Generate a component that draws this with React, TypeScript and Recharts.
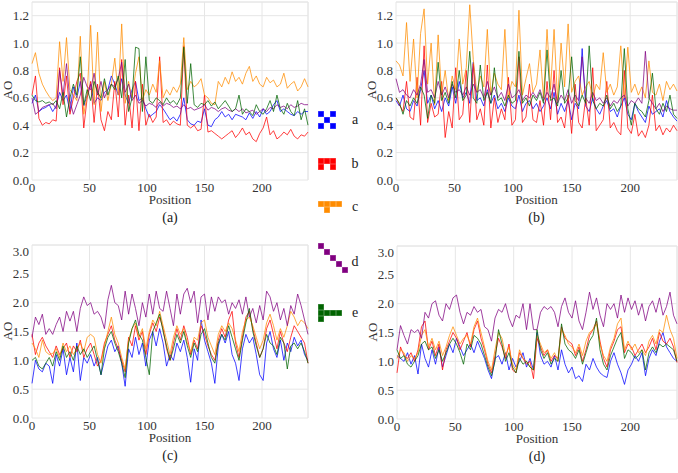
import React from "react";
import { CartesianGrid, Line, LineChart, ReferenceLine, XAxis, YAxis } from "recharts";

// Four AO-vs-position panels (a)-(d), five series each, plus a pixel-icon legend.

const FONT = "'Liberation Serif', 'Times New Roman', Times, 'DejaVu Serif', serif";

const POSITIONS = [
  0, 3, 6, 9, 12, 15, 18, 21, 24, 27,
  30, 33, 36, 39, 42, 45, 48, 51, 54, 57,
  60, 63, 66, 69, 72, 75, 78, 81, 84, 87,
  90, 93, 96, 99, 102, 105, 108, 111, 114, 117,
  120, 123, 126, 129, 132, 135, 138, 141, 144, 147,
  150, 153, 156, 159, 162, 165, 168, 171, 174, 177,
  180, 183, 186, 189, 192, 195, 198, 201, 204, 207,
  210, 213, 216, 219, 222, 225, 228, 231, 234, 237,
  240,
];

const X_TICKS = [0, 50, 100, 150, 200];
const Y_TICKS_TOP = [0, 0.2, 0.4, 0.6, 0.8, 1.0, 1.2];
const Y_TICKS_BOTTOM = [0, 0.5, 1.0, 1.5, 2.0, 2.5, 3.0];

// ---- panel (a) ----
const A_BLUE = [
  0.56, 0.62, 0.50, 0.52, 0.53, 0.55, 0.50, 0.54, 0.64, 0.58,
  0.62, 0.50, 0.68, 0.60, 0.72, 0.54, 0.62, 0.70, 0.56, 0.60,
  0.58, 0.64, 0.66, 0.76, 0.70, 0.62, 0.74, 0.62, 0.56, 0.66,
  0.72, 0.58, 0.60, 0.52, 0.46, 0.48, 0.50, 0.55, 0.52, 0.48,
  0.44, 0.46, 0.43, 0.48, 0.60, 0.44, 0.41, 0.40, 0.43, 0.42,
  0.52, 0.40, 0.39, 0.44, 0.46, 0.50, 0.46, 0.48, 0.44, 0.48,
  0.47, 0.46, 0.44, 0.49, 0.45, 0.50, 0.46, 0.52, 0.48, 0.50,
  0.55, 0.58, 0.50, 0.52, 0.50, 0.48, 0.47, 0.50, 0.48, 0.50,
  0.50,
];
const A_RED = [
  0.62, 0.76, 0.45, 0.40, 0.42, 0.41, 0.44, 0.43, 0.82, 0.55,
  0.76, 0.48, 0.60, 0.72, 0.78, 0.38, 0.60, 0.72, 0.42, 0.70,
  0.44, 0.36, 0.50, 0.44, 0.72, 0.46, 0.88, 0.40, 0.62, 0.38,
  0.72, 0.36, 0.70, 0.40, 0.48, 0.42, 0.46, 0.90, 0.42, 0.44,
  0.40, 0.43, 0.41, 0.40, 0.98, 0.40, 0.38, 0.40, 0.36, 0.37,
  0.62, 0.35, 0.36, 0.34, 0.32, 0.30, 0.32, 0.34, 0.36, 0.31,
  0.34, 0.38, 0.33, 0.35, 0.30, 0.28, 0.34, 0.38, 0.46, 0.33,
  0.36, 0.30, 0.32, 0.35, 0.33, 0.37, 0.32, 0.30, 0.33, 0.32,
  0.35,
];
const A_ORANGE = [
  0.85, 0.93, 0.78, 0.70, 0.65, 0.61, 0.58, 0.60, 1.01, 0.72,
  1.04, 0.66, 0.62, 0.58, 1.05, 0.48, 0.62, 1.13, 0.55, 1.08,
  0.50, 0.72, 0.58, 0.70, 0.89, 0.62, 1.14, 0.56, 0.72, 0.60,
  0.78, 0.90, 0.58, 0.66, 0.62, 0.70, 0.64, 0.87, 0.60, 0.66,
  0.62, 0.68, 0.64, 0.70, 1.04, 0.66, 0.72, 0.68, 0.70, 0.74,
  0.62, 0.60, 0.56, 0.55, 0.72, 0.68, 0.75, 0.70, 0.79, 0.72,
  0.75, 0.70, 0.78, 0.83, 0.72, 0.76, 0.70, 0.68, 0.75, 0.71,
  0.73, 0.68, 0.70, 0.78, 0.67, 0.70, 0.72, 0.65, 0.68, 0.74,
  0.68,
];
const A_PURPLE = [
  0.60, 0.48, 0.50, 0.53, 0.54, 0.55, 0.56, 0.52, 0.80, 0.62,
  0.85, 0.58, 0.48, 0.55, 0.62, 0.75, 0.68, 0.66, 0.78, 0.62,
  0.72, 0.60, 0.66, 0.70, 0.68, 0.74, 0.86, 0.64, 0.70, 0.58,
  0.62, 0.56, 0.58, 0.54, 0.56, 0.55, 0.53, 0.57, 0.54, 0.56,
  0.55, 0.53, 0.54, 0.52, 0.55, 0.52, 0.53, 0.51, 0.52, 0.53,
  0.55, 0.51, 0.53, 0.52, 0.50, 0.52, 0.53, 0.51, 0.50, 0.52,
  0.50, 0.52, 0.49, 0.50, 0.51, 0.48, 0.50, 0.52, 0.50, 0.53,
  0.52, 0.55, 0.53, 0.54, 0.52, 0.55, 0.53, 0.54, 0.56, 0.55,
  0.55,
];
const A_GREEN = [
  0.62, 0.58, 0.57, 0.58, 0.56, 0.57, 0.55, 0.58, 0.52, 0.64,
  0.46, 0.60, 0.70, 0.62, 0.90, 0.55, 0.66, 0.58, 0.72, 0.64,
  0.60, 0.74, 0.62, 0.70, 0.66, 0.76, 0.60, 0.88, 0.50, 0.60,
  0.97, 0.96, 0.50, 0.90, 0.58, 0.56, 0.60, 0.58, 0.55, 0.60,
  0.56, 0.58, 0.55, 0.60, 0.97, 0.56, 0.85, 0.55, 0.53, 0.56,
  0.55, 0.58, 0.54, 0.57, 0.52, 0.55, 0.58, 0.54, 0.50, 0.52,
  0.62, 0.48, 0.52, 0.50, 0.47, 0.55, 0.50, 0.48, 0.52, 0.58,
  0.50, 0.62, 0.52, 0.48, 0.56, 0.50, 0.47, 0.58, 0.44, 0.52,
  0.40,
];

// ---- panel (b) ----
const B_BLUE = [
  0.58, 0.54, 0.62, 0.52, 0.50, 0.58, 0.54, 0.66, 0.80, 0.56,
  0.62, 0.52, 0.58, 0.50, 0.60, 0.54, 0.68, 0.56, 0.72, 0.60,
  0.64, 0.56, 0.86, 0.58, 0.60, 0.54, 0.66, 0.56, 0.62, 0.52,
  0.56, 0.50, 0.60, 0.54, 0.52, 0.62, 0.50, 0.56, 0.58, 0.52,
  0.56, 0.50, 0.54, 0.60, 0.52, 0.64, 0.48, 0.56, 0.50, 0.58,
  0.44, 0.56, 0.52, 0.96, 0.54, 0.50, 0.60, 0.52, 0.48, 0.54,
  0.58, 0.50, 0.52, 0.46, 0.54, 0.60, 0.48, 0.44, 0.56, 0.50,
  0.46, 0.42, 0.54, 0.48, 0.50, 0.52, 0.46, 0.58, 0.50, 0.46,
  0.43,
];
const B_RED = [
  0.60, 0.55, 0.50, 0.72, 0.46, 0.44, 0.75, 0.40, 0.98, 0.42,
  0.56, 0.46, 0.48, 0.72, 0.31, 0.50, 0.38, 0.82, 0.44, 0.48,
  0.80, 0.42, 0.85, 0.44, 0.52, 0.40, 0.84, 0.38, 0.60, 0.42,
  0.52, 0.44, 0.75, 0.40, 0.44, 0.90, 0.42, 0.46, 0.70, 0.44,
  0.42, 0.58, 0.40, 0.72, 0.44, 0.80, 0.42, 0.46, 0.38, 0.62,
  0.34, 0.70, 0.42, 0.38, 0.60, 0.40, 0.82, 0.36, 0.40, 0.44,
  0.72, 0.38, 0.42, 0.36, 0.33, 0.80, 0.38, 0.34, 0.48, 0.32,
  0.36, 0.31, 0.40, 0.62, 0.36, 0.40, 0.33, 0.38, 0.35, 0.40,
  0.36,
];
const B_ORANGE = [
  0.87, 0.84, 0.76, 1.15, 0.72, 1.03, 0.60, 1.07, 1.25, 0.70,
  1.00, 0.55, 1.06, 0.62, 0.80, 0.58, 0.76, 0.66, 1.03, 0.70,
  0.82, 1.28, 0.88, 0.64, 0.76, 0.68, 1.10, 0.62, 0.78, 0.70,
  0.66, 1.10, 0.60, 0.72, 0.68, 1.24, 0.62, 0.74, 0.85, 0.64,
  0.70, 0.95, 0.60, 1.10, 0.66, 1.10, 0.58, 1.00, 0.68, 1.14,
  0.64, 0.72, 0.76, 0.62, 0.68, 0.72, 0.60, 0.70, 0.66, 0.93,
  0.64, 0.70, 0.62, 0.68, 0.98, 0.60, 0.97, 0.64, 0.70, 0.62,
  0.68, 0.60, 0.87, 0.64, 0.62, 0.70, 0.58, 0.72, 0.66, 0.70,
  0.65,
];
const B_PURPLE = [
  0.74, 0.64, 0.66, 0.62, 0.60, 0.66, 0.62, 0.70, 0.88, 0.64,
  0.66, 0.60, 0.72, 0.62, 0.68, 0.60, 0.70, 0.64, 0.66, 0.62,
  0.68, 0.62, 0.70, 0.64, 0.66, 0.60, 0.72, 0.62, 0.68, 0.60,
  0.64, 0.58, 0.70, 0.60, 0.62, 0.66, 0.58, 0.62, 0.60, 0.64,
  0.60, 0.66, 0.58, 0.64, 0.60, 0.70, 0.56, 0.62, 0.58, 0.66,
  0.56, 0.62, 0.58, 0.90, 0.60, 0.56, 0.64, 0.58, 0.60, 0.56,
  0.60, 0.54, 0.58, 0.56, 0.60, 0.62, 0.54, 0.58, 0.56, 0.60,
  0.56, 0.94, 0.60, 0.56, 0.52, 0.56, 0.50, 0.54, 0.52, 0.51,
  0.51,
];
const B_GREEN = [
  0.60, 0.56, 0.48, 0.58, 0.54, 0.60, 0.56, 0.68, 0.62, 0.45,
  0.62, 0.56, 0.86, 0.58, 0.64, 0.56, 0.72, 0.60, 0.80, 0.58,
  0.62, 0.94, 0.60, 0.56, 0.84, 0.58, 0.64, 0.56, 0.82, 0.58,
  0.60, 0.54, 0.62, 0.56, 0.58, 0.94, 0.56, 0.60, 0.54, 0.62,
  0.58, 0.64, 0.56, 0.95, 0.58, 0.60, 0.54, 0.80, 0.56, 0.60,
  0.90, 0.58, 0.54, 0.62, 0.56, 0.98, 0.58, 0.52, 0.56, 0.54,
  0.62, 0.52, 0.56, 0.50, 0.54, 0.96, 0.52, 0.40, 0.56, 0.52,
  0.50, 0.46, 0.58, 0.78, 0.52, 0.48, 0.56, 0.50, 0.62, 0.48,
  0.45,
];

// ---- panel (c) ----
const C_BLUE = [
  0.60, 1.00, 0.85, 0.80, 0.95, 0.90, 0.60, 1.10, 0.90, 1.20,
  0.75, 1.05, 0.80, 1.30, 0.65, 1.05, 0.95, 1.10, 0.90, 1.05,
  0.75, 1.00, 1.25, 1.35, 1.15, 1.25, 0.95, 0.55, 1.20, 1.05,
  1.40, 1.10, 1.30, 0.90, 1.35, 1.50, 1.25, 1.55, 1.30, 0.90,
  1.10, 1.00, 1.30, 1.15, 1.35, 1.05, 0.62, 1.20, 1.00, 1.70,
  1.35, 1.15, 0.95, 0.60, 1.25, 1.45, 1.30, 1.50, 1.10, 0.95,
  0.65, 1.20, 1.45, 1.30, 1.40, 1.10, 0.75, 0.65, 1.30, 1.50,
  1.20, 1.05, 1.35, 1.00, 1.30, 1.15, 1.40, 1.25, 1.35, 1.10,
  1.00,
];
const C_RED = [
  1.45, 1.10, 1.30, 1.40, 1.25, 1.15, 1.05, 1.25, 1.10, 1.20,
  1.30, 1.05, 1.25, 1.15, 1.35, 1.05, 1.20, 1.30, 1.10, 0.90,
  1.00, 1.30, 1.45, 1.60, 1.35, 1.20, 1.00, 0.80, 1.40, 1.25,
  1.60, 1.35, 1.50, 1.10, 1.45, 1.65, 1.50, 1.75, 1.55, 1.20,
  1.00, 1.30, 1.55, 1.35, 1.60, 1.40, 1.10, 1.35, 1.20, 1.60,
  1.45, 1.25, 1.10, 1.00, 1.35, 1.55, 1.40, 1.70, 1.85, 1.30,
  1.05, 1.40, 1.75, 1.85, 1.55, 1.30, 1.05, 1.20, 1.55, 1.70,
  1.45, 1.20, 1.50, 1.30, 1.15, 1.40, 1.60, 1.50, 1.40, 1.30,
  0.95,
];
const C_ORANGE = [
  1.30, 1.20, 1.05, 1.35, 1.15, 1.10, 1.12, 1.20, 1.05, 1.30,
  1.15, 1.25, 1.10, 1.20, 1.30, 1.15, 1.40, 1.45, 1.40, 1.10,
  0.95, 1.25, 1.50, 1.75, 1.45, 1.30, 1.05, 0.85, 1.35, 1.55,
  1.65, 1.40, 1.55, 1.20, 1.50, 1.70, 1.60, 1.85, 1.60, 1.35,
  1.10, 1.40, 1.60, 1.45, 1.55, 1.30, 1.15, 1.40, 1.35, 1.65,
  1.70, 1.40, 1.25, 1.10, 1.45, 1.60, 1.50, 1.65, 1.55, 1.35,
  1.15, 1.50, 1.70, 1.75, 1.60, 1.40, 1.20, 1.35, 1.65, 1.80,
  1.60, 1.35, 1.55, 1.40, 1.60, 1.85, 1.75, 1.60, 1.70, 1.65,
  1.55,
];
const C_PURPLE = [
  1.40, 1.75, 1.62, 1.80, 1.45, 1.55, 1.45, 1.62, 1.75, 1.50,
  1.85, 1.68, 1.85, 1.50, 1.90, 2.10, 1.95, 2.00, 1.80, 1.85,
  1.75, 1.55, 2.05, 2.30, 2.00, 1.95, 1.70, 2.20, 1.80, 2.15,
  1.90, 1.60, 2.00, 1.75, 2.15, 1.80, 2.20, 1.90, 1.85, 2.20,
  1.90, 1.60, 2.15, 1.80, 2.15, 2.25, 2.00, 2.20, 1.65, 2.10,
  2.15, 1.70, 2.10, 1.85, 2.10, 2.00, 2.05, 1.80, 2.00, 1.90,
  2.05, 1.80, 2.10, 1.75, 1.90, 1.65, 1.95, 1.70, 2.20, 2.10,
  1.85, 2.00, 1.70, 1.90, 1.60, 1.95, 1.80, 2.15, 1.95, 1.70,
  1.45,
];
const C_GREEN = [
  1.00, 1.05, 0.90, 0.85, 0.95, 1.05, 0.90, 1.15, 1.00, 1.25,
  1.05, 1.15, 1.00, 1.25, 1.10, 1.20, 1.05, 1.15, 1.25, 1.00,
  0.75, 1.20, 1.40, 1.50, 1.30, 1.15, 0.95, 0.70, 1.30, 1.55,
  1.70, 1.45, 1.35, 1.05, 0.75, 1.50, 1.65, 1.80, 1.50, 1.25,
  1.00, 1.20, 1.45, 1.30, 1.50, 1.25, 1.05, 1.30, 1.15, 1.45,
  1.55, 1.30, 1.05, 0.95, 1.30, 1.45, 1.35, 1.60, 1.40, 1.20,
  1.00, 1.35, 1.65, 1.90, 1.50, 1.25, 1.05, 1.20, 1.45, 1.30,
  1.25, 1.10, 1.40, 1.30, 0.85, 1.25, 1.30, 1.20, 1.30, 1.15,
  0.95,
];

// ---- panel (d) ----
const D_BLUE = [
  1.10, 1.05, 1.00, 1.15, 0.95, 1.10, 0.78, 1.30, 1.05, 0.90,
  1.20, 0.95, 1.25, 0.90, 1.10, 1.30, 1.15, 1.40, 1.25, 1.10,
  1.20, 1.30, 1.15, 1.35, 1.20, 1.05, 0.85, 0.70, 1.05, 1.10,
  0.95, 1.15, 0.85, 1.05, 0.90, 1.00, 1.15, 0.90, 1.05, 0.85,
  1.50, 1.10, 0.95, 1.00, 0.90, 1.10, 0.85, 1.20, 0.95, 0.80,
  0.90, 0.70, 0.75, 0.65, 0.95, 0.85, 1.05, 0.90, 0.80, 0.75,
  0.72, 1.00, 1.15, 0.95, 0.80, 0.60, 0.85, 0.95, 1.10, 1.00,
  1.15, 0.75, 1.05, 1.20, 1.10, 1.35, 1.50, 1.25, 1.15, 1.05,
  1.00,
];
const D_RED = [
  0.80, 1.25, 1.10, 1.05, 1.15, 1.00, 1.20, 1.60, 1.70, 1.20,
  1.35, 1.10, 1.30, 0.85, 1.20, 1.35, 1.50, 1.40, 1.20, 1.35,
  1.50, 1.25, 1.55, 1.70, 1.40, 1.20, 0.95, 0.80, 1.10, 1.40,
  1.25, 1.05, 1.30, 0.85, 0.80, 1.15, 1.05, 0.95, 1.00, 0.70,
  1.40, 1.25, 1.10, 1.20, 1.00, 1.10, 1.05, 1.60, 1.40, 1.35,
  1.30, 1.10, 1.25, 1.00, 1.20, 1.45, 1.55, 1.70, 1.35, 1.05,
  0.90, 1.20, 1.35, 1.55, 1.60, 1.15, 1.30, 1.25, 1.10, 1.20,
  1.30, 1.15, 1.25, 1.40, 1.20, 1.50, 1.35, 1.30, 1.40, 1.25,
  0.98,
];
const D_ORANGE = [
  1.05, 1.20, 1.15, 1.00, 1.10, 1.05, 1.15, 1.45, 1.55, 1.25,
  1.40, 1.20, 1.35, 1.10, 1.25, 1.45, 1.60, 1.45, 1.30, 1.40,
  1.45, 1.30, 1.60, 1.75, 1.50, 1.25, 1.00, 0.85, 1.20, 1.50,
  1.40, 1.10, 1.25, 0.95, 0.85, 1.20, 1.05, 1.00, 0.90, 0.85,
  1.45, 1.30, 1.15, 1.20, 1.05, 1.15, 1.00, 1.55, 1.45, 1.30,
  1.25, 1.15, 1.30, 1.10, 1.35, 1.50, 1.55, 1.65, 1.30, 1.10,
  1.00, 1.25, 1.40, 1.65, 1.75, 1.20, 1.35, 1.20, 1.30, 1.15,
  1.20, 1.10, 1.35, 1.45, 1.30, 1.55, 1.50, 1.80, 1.55, 1.40,
  1.05,
];
const D_PURPLE = [
  1.20, 1.62, 1.45, 1.30, 1.55, 1.50, 1.55, 1.40, 1.85, 1.75,
  2.00, 2.05, 1.80, 1.70, 2.00, 1.90, 2.10, 2.15, 1.85, 1.65,
  1.85, 1.80, 1.95, 1.85, 1.90, 1.60, 1.55, 1.35, 1.75, 1.90,
  1.85, 2.00, 1.75, 1.60, 1.80, 1.75, 2.00, 1.55, 2.00, 1.55,
  1.55, 1.85, 1.95, 1.90, 1.95, 1.85, 1.60, 1.95, 2.10, 1.85,
  1.75, 2.05, 1.70, 1.55, 1.85, 2.20, 1.90, 2.10, 1.80, 1.60,
  2.00, 1.90, 2.00, 1.75, 2.15, 1.85, 2.10, 1.90, 2.05, 1.80,
  2.00, 1.70, 1.95, 2.05, 1.85, 2.10, 1.80, 1.95, 2.20, 1.80,
  1.65,
];
const D_GREEN = [
  1.20, 1.05, 1.10, 0.95, 0.90, 1.00, 1.10, 1.30, 1.35, 1.20,
  1.25, 1.05, 1.20, 1.00, 1.15, 1.30, 1.40, 1.30, 1.15, 0.95,
  1.30, 1.20, 1.45, 1.40, 1.30, 1.10, 0.90, 0.75, 1.00, 1.55,
  1.30, 1.00, 1.15, 0.90, 0.80, 1.05, 0.95, 1.00, 0.90, 0.85,
  1.55, 1.20, 1.05, 1.15, 0.95, 1.05, 1.00, 1.65, 1.30, 1.20,
  1.15, 1.05, 1.20, 0.95, 1.15, 1.35, 1.45, 1.75, 1.20, 0.95,
  0.85, 1.10, 1.25, 1.40, 1.50, 1.05, 1.20, 1.15, 1.05, 1.10,
  1.20, 0.85, 1.15, 1.25, 1.15, 1.30, 1.25, 1.30, 1.25, 1.20,
  1.00,
];

const SERIES = [
  { key: "a", color: "#0000ff" },
  { key: "b", color: "#ff0000" },
  { key: "c", color: "#ff8c00" },
  { key: "d", color: "#800080" },
  { key: "e", color: "#006400" },
];

function buildRows(a: number[], b: number[], c: number[], d: number[], e: number[]) {
  return POSITIONS.map((p, i) => ({ p, a: a[i], b: b[i], c: c[i], d: d[i], e: e[i] }));
}

const ROWS_A = buildRows(A_BLUE, A_RED, A_ORANGE, A_PURPLE, A_GREEN);
const ROWS_B = buildRows(B_BLUE, B_RED, B_ORANGE, B_PURPLE, B_GREEN);
const ROWS_C = buildRows(C_BLUE, C_RED, C_ORANGE, C_PURPLE, C_GREEN);
const ROWS_D = buildRows(D_BLUE, D_RED, D_ORANGE, D_PURPLE, D_GREEN);

const GRID = "#e6e6e6";
const TICK = { fontSize: 13, fill: "#333", fontFamily: FONT, style: { fontFamily: FONT } };

interface PanelProps {
  rows: Record<string, number>[];
  left: number;
  top: number;
  width: number;
  height: number;
  yMax: number;
  yTicks: number[];
  caption: string;
}

const textStyle: React.CSSProperties = {
  position: "absolute",
  textAlign: "center",
  fontFamily: FONT,
  color: "#333",
};

function Panel({ rows, left, top, width, height, yMax, yTicks, caption }: PanelProps) {
  const plotLeft = left + 32;
  const plotRight = left + width - 2;
  const cx = (plotLeft + plotRight) / 2;
  const plotBottom = top + height - 20;
  return (
    <>
      <div style={{ position: "absolute", left, top }}>
        <LineChart width={width} height={height} data={rows} margin={{ top: 2, right: 2, bottom: 0, left: 0 }}>
          <CartesianGrid stroke={GRID} strokeWidth={1} />
          <XAxis
            dataKey="p"
            type="number"
            domain={[0, 240]}
            ticks={X_TICKS}
            height={20}
            axisLine={false}
            tickLine={false}
            tickSize={0}
            tickMargin={3}
            tick={TICK}
          />
          <YAxis
            type="number"
            domain={[0, yMax]}
            ticks={yTicks}
            width={32}
            axisLine={false}
            tickLine={false}
            tickSize={0}
            tickMargin={3}
            tick={TICK}
            tickFormatter={(v: number) => v.toFixed(1)}
          />
          <ReferenceLine y={yMax} stroke={GRID} />
          <ReferenceLine x={240} stroke={GRID} />
          {SERIES.map((s) => (
            <Line
              key={s.key}
              type="linear"
              dataKey={s.key}
              stroke={s.color}
              strokeOpacity={0.75}
              strokeWidth={1}
              dot={false}
              isAnimationActive={false}
            />
          ))}
        </LineChart>
      </div>
      <div
        style={{
          ...textStyle,
          left: left - 2,
          top: top + (height - 20) / 2 - 8,
          width: 20,
          height: 16,
          transform: "rotate(-90deg)",
          fontSize: 13,
          lineHeight: "16px",
        }}
      >
        AO
      </div>
      <div style={{ ...textStyle, left: cx - 40, top: plotBottom + 13, width: 80, fontSize: 13, lineHeight: "14px" }}>
        Position
      </div>
      <div style={{ ...textStyle, left: cx - 30, top: plotBottom + 30, width: 60, fontSize: 14, lineHeight: "16px", color: "#222" }}>
        {caption}
      </div>
    </>
  );
}

// pixel-art legend icons, 6px cells
const CELL = 6;
const LEGEND = [
  { label: "a", color: "#0000ff", top: 111, labelY: 120, cells: [[0, 0], [2, 0], [1, 1], [0, 2], [2, 2]] },
  { label: "b", color: "#ff0000", top: 158, labelY: 164, cells: [[0, 0], [1, 0], [2, 0], [0, 1], [2, 1]] },
  { label: "c", color: "#ff8c00", top: 201, labelY: 207, cells: [[0, 0], [1, 0], [2, 0], [3, 0], [1, 1]] },
  { label: "d", color: "#800080", top: 243, labelY: 262, cells: [[0, 0], [1, 1], [2, 2], [3, 3], [4, 4]] },
  { label: "e", color: "#006400", top: 304, labelY: 313, cells: [[0, 0], [0, 1], [1, 1], [2, 1], [3, 1], [0, 2]] },
];

function Legend() {
  return (
    <>
      {LEGEND.map((item) => (
        <React.Fragment key={item.label}>
          {item.cells.map(([cx, cy], i) => (
            <div
              key={i}
              style={{
                position: "absolute",
                left: 318 + cx * CELL,
                top: item.top + cy * CELL,
                width: CELL,
                height: CELL,
                background: item.color,
                boxShadow: "inset 0 0 0 0.5px rgba(255,255,255,0.35)",
              }}
            />
          ))}
          <div style={{ ...textStyle, left: 348, top: item.labelY - 9, width: 14, fontSize: 14, lineHeight: "18px", color: "#222" }}>
            {item.label}
          </div>
        </React.Fragment>
      ))}
    </>
  );
}

export default function App() {
  return (
    <div
      style={{
        position: "absolute",
        left: 0,
        top: 0,
        width: 678,
        height: 473,
        background: "#fff",
        overflow: "hidden",
        fontFamily: FONT,
      }}
    >
      <Panel rows={ROWS_A} left={0} top={0} width={310} height={200} yMax={1.3} yTicks={Y_TICKS_TOP} caption="(a)" />
      <Panel rows={ROWS_B} left={364} top={0} width={315} height={200} yMax={1.3} yTicks={Y_TICKS_TOP} caption="(b)" />
      <Panel rows={ROWS_C} left={0} top={243} width={310} height={195} yMax={3} yTicks={Y_TICKS_BOTTOM} caption="(c)" />
      <Panel rows={ROWS_D} left={365} top={244} width={314} height={195} yMax={3} yTicks={Y_TICKS_BOTTOM} caption="(d)" />
      <Legend />
    </div>
  );
}
